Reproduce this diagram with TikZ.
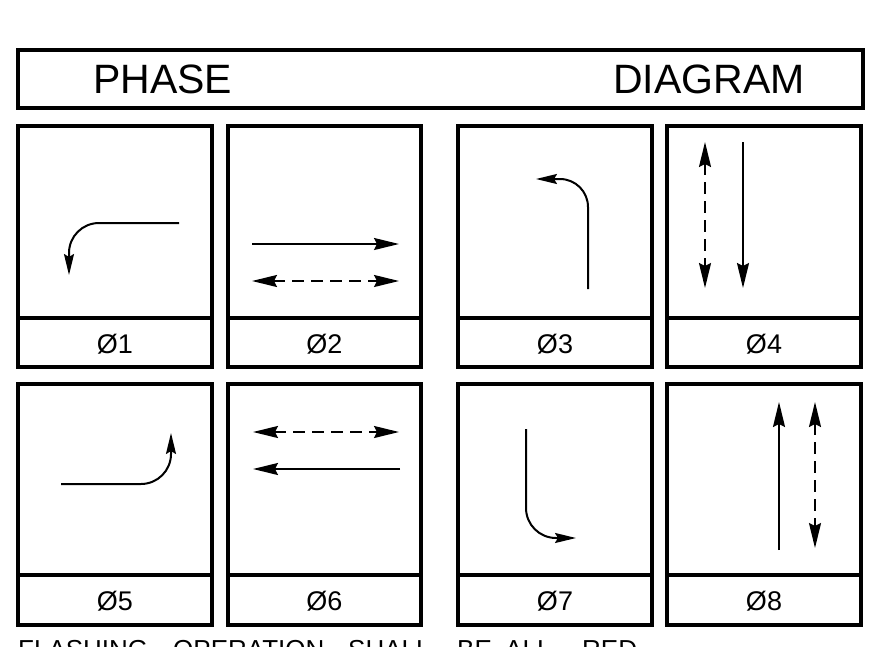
\documentclass[tikz,border=0pt]{standalone}
\usepackage{fontspec}
\setmainfont{Liberation Sans}
\usetikzlibrary{arrows.meta}
\begin{document}
\begin{tikzpicture}[x=1pt,y=-1pt,
  frame/.style={line width=3.4pt},
  big/.style={font=\fontsize{41}{45}\selectfont, anchor=base west, inner sep=0pt},
  lab/.style={font=\fontsize{27}{30}\selectfont, anchor=base, inner sep=0pt},
  note/.style={font=\fontsize{26}{30}\selectfont, anchor=base west, inner sep=0pt},
  tipb/.tip={Stealth[length=25pt,width=12pt,inset=3pt]},
  tips/.tip={Stealth[length=21pt,width=10pt,inset=3pt]},
  flow/.style={line width=2pt, -tipb},
  flowd/.style={line width=2pt, tipb-tipb, dash pattern=on 12pt off 7pt},
  turn/.style={line width=2pt, rounded corners=30pt, -tips},
]
\useasboundingbox (0,0) rectangle (887,646);
\clip (0,0) rectangle (887,646);
\fill[white] (0,0) rectangle (887,646);

% title
\draw[frame] (18,50) rectangle (863,108);
\node[big] (tphase) at (93,93) {PHASE};
\node[big] (tdiag) at (613,93) {DIAGRAM};

% panels
\foreach \xa/\xb in {18/212,228/421,458/652,667/861}{
  \draw[frame] (\xa,126) rectangle (\xb,367);
  \draw[frame] (\xa,318) -- (\xb,318);
  \draw[frame] (\xa,384) rectangle (\xb,625);
  \draw[frame] (\xa,575) -- (\xb,575);
}

% labels
\node[lab] (l1) at (115,353) {Ø1};
\node[lab] (l2) at (324.5,353) {Ø2};
\node[lab] (l3) at (555,353) {Ø3};
\node[lab] (l4) at (764,353) {Ø4};
\node[lab] (l5) at (115,610) {Ø5};
\node[lab] (l6) at (324.5,610) {Ø6};
\node[lab] (l7) at (555,610) {Ø7};
\node[lab] (l8) at (764,610) {Ø8};

% phase 1
\coordinate (a1s) at (179,223); \coordinate (a1e) at (69,275);
\draw[turn] (a1s) -| (a1e);
% phase 2
\coordinate (a2s) at (252,244); \coordinate (a2e) at (399,244);
\draw[flow] (a2s) -- (a2e);
\coordinate (b2s) at (252,281); \coordinate (b2e) at (399,281);
\draw[flowd] (b2s) -- (b2e);
% phase 3
\coordinate (a3s) at (588,289); \coordinate (a3e) at (536,179);
\draw[turn, rounded corners=28pt] (a3s) |- (a3e);
% phase 4
\coordinate (a4s) at (705,142); \coordinate (a4e) at (705,288);
\draw[flowd] (a4s) -- (a4e);
\coordinate (b4s) at (743,142); \coordinate (b4e) at (743,288);
\draw[flow] (b4s) -- (b4e);
% phase 5
\coordinate (a5s) at (61,484); \coordinate (a5e) at (171,433);
\draw[turn] (a5s) -| (a5e);
% phase 6
\coordinate (a6s) at (253,432); \coordinate (a6e) at (399,432);
\draw[flowd] (a6s) -- (a6e);
\coordinate (b6s) at (400,469); \coordinate (b6e) at (253,469);
\draw[flow] (b6s) -- (b6e);
% phase 7
\coordinate (a7s) at (526,429); \coordinate (a7e) at (576,538);
\draw[turn] (a7s) |- (a7e);
% phase 8
\coordinate (a8s) at (779,550); \coordinate (a8e) at (779,402);
\draw[flow] (a8s) -- (a8e);
\coordinate (b8s) at (815,402); \coordinate (b8e) at (815,548);
\draw[flowd] (b8s) -- (b8e);

% note (cut off at the bottom edge, as in the reference)
\node[note] (n1) at (18,658) {FLASHING};
\node[note] (n2) at (173,658) {OPERATION};
\node[note] (n3) at (348,658) {SHALL};
\node[note] (n4) at (457,658) {BE};
\node[note] (n5) at (505,658) {ALL};
\node[note] (n6) at (582,658) {RED};
\end{tikzpicture}
\end{document}
